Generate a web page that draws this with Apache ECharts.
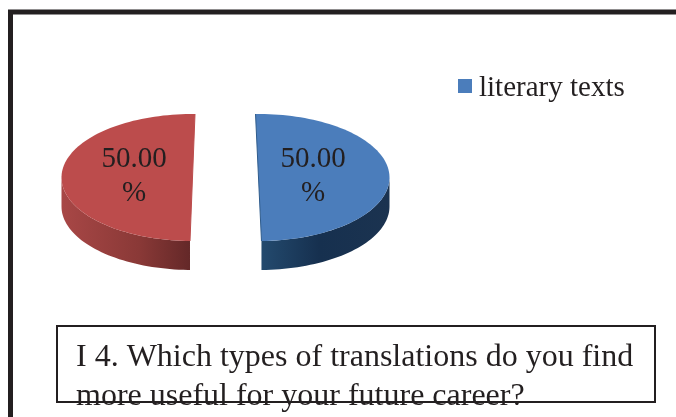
<!DOCTYPE html>
<html>
<head>
<meta charset="utf-8">
<style>
  html, body { margin: 0; padding: 0; background: #fff; }
  #main { width: 676px; height: 417px; }
</style>
<script src="https://cdn.jsdelivr.net/npm/echarts@6/dist/echarts.min.js"></script>
</head>
<body>
<div id="main"></div>
<script>
var categories = ['literary texts', 'other texts'];
var shares = [50, 50];
var shareLabels = ['50.00\n%', '50.00\n%'];
var questionText = 'I 4. Which types of translations do you find\nmore useful for your future career?';

var serif = '"Liberation Serif", "Times New Roman", serif';
var total = shares[0] + shares[1];

// the two slices are pulled apart and lie at slightly different tilts
var sliceLook = [
    { cx: 258.5, cy: 177.5, start: -91.3, labelX: 313, top: '#4b7dbb', edge: '#2f5c8c',
      wall: [[0, '#234a6e'], [0.45, '#16304f'], [1, '#1b3350']] },
    { cx: 192.5, cy: 177.5, start: 91.1, labelX: 134, top: '#bc4c4c', edge: '#bc4c4c',
      wall: [[0, '#a84746'], [0.6, '#8a3937'], [1, '#642828']] }
];
var rx = 131, ry = 63.5, depth = 29;

function ellipsePoint(look, deg, drop) {
    var a = deg * Math.PI / 180;
    return [look.cx + rx * Math.cos(a), look.cy + ry * Math.sin(a) + drop];
}

function renderSlice(params, api) {
    var look = sliceLook[params.seriesIndex];
    var from = look.start;
    var to = from + api.value(0) / total * 360;
    var topFace = [[look.cx, look.cy]];
    var d;
    for (d = from; d <= to; d += 2) topFace.push(ellipsePoint(look, d, 0));
    topFace.push(ellipsePoint(look, to, 0));

    // only the lower half of the rim is visible
    var wallFrom = Math.max(from, 0);
    var wallTo = Math.min(to, 180);
    var rim = [];
    for (d = wallFrom; d <= wallTo; d += 2) rim.push(ellipsePoint(look, d, 0));
    rim.push(ellipsePoint(look, wallTo, 0));
    for (d = wallTo; d >= wallFrom; d -= 2) rim.push(ellipsePoint(look, d, depth));
    rim.push(ellipsePoint(look, wallFrom, depth));

    var stops = look.wall.map(function (s) { return { offset: s[0], color: s[1] }; });

    var a = ellipsePoint(look, from, 0), b = ellipsePoint(look, to, 0);
    return {
        type: 'group',
        children: [
            { type: 'polygon', shape: { points: rim },
              style: { fill: new echarts.graphic.LinearGradient(0, 0, 1, 0, stops) } },
            { type: 'polygon', shape: { points: topFace }, style: { fill: look.top } },
            { type: 'line', shape: { x1: a[0], y1: a[1], x2: b[0], y2: b[1] },
              style: { stroke: look.edge, lineWidth: 1 } },
            { type: 'text', x: look.labelX, y: 176.5,
              style: { text: shareLabels[params.seriesIndex], fill: '#231f20', font: '29px ' + serif,
                       lineHeight: 34, align: 'center', verticalAlign: 'middle' } }
        ]
    };
}

var myChart = echarts.init(document.getElementById('main'));
var option = {
    backgroundColor: '#fff',
    animation: false,
    legend: {
        data: [categories[0]],
        left: 453,
        top: 69,
        itemWidth: 14,
        itemHeight: 14,
        itemGap: 0,
        icon: 'rect',
        formatter: '{a|{name}}',
        textStyle: {
            rich: { a: { fontFamily: serif, fontSize: 29, color: '#231f20', padding: [5, 0, 0, 2] } }
        }
    },
    series: [
        { name: categories[0], type: 'custom', coordinateSystem: 'none', renderItem: renderSlice,
          itemStyle: { color: '#4b7dbb' }, data: [[shares[0]]] },
        { name: categories[1], type: 'custom', coordinateSystem: 'none', renderItem: renderSlice,
          itemStyle: { color: '#bc4c4c' }, data: [[shares[1]]] }
    ],
    graphic: [
        { type: 'polyline', z: 5, shape: { points: [[10.5, 417], [10.5, 12], [676, 12]] },
          style: { stroke: '#231f20', fill: null, lineWidth: 5, lineJoin: 'miter' } },
        { type: 'text', z: 5, x: 76, y: 338,
          style: { text: questionText, fill: '#231f20', font: '32px ' + serif, lineHeight: 39 } },
        { type: 'rect', z: 6, shape: { x: 57, y: 326, width: 598, height: 76 },
          style: { stroke: '#231f20', fill: null, lineWidth: 2 } }
    ]
};
myChart.setOption(option);
</script>
</body>
</html>
